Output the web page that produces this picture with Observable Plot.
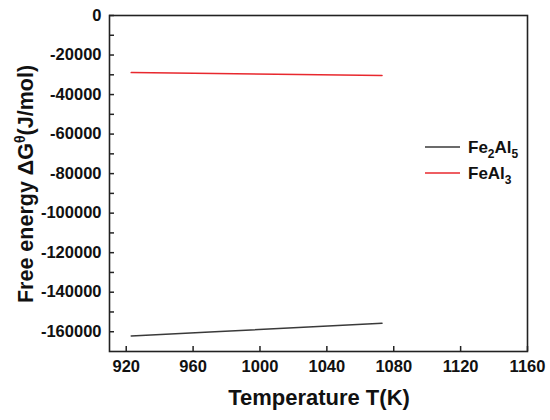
<!DOCTYPE html>
<html>
<head>
<meta charset="utf-8">
<script src="https://cdn.jsdelivr.net/npm/d3@7"></script>
<script src="https://cdn.jsdelivr.net/npm/@observablehq/plot@0.6"></script>
<style>
  html, body { margin: 0; padding: 0; background: #fff; }
</style>
</head>
<body>
<div id="chart"></div>
<script>
// ---- data ----
const temperature = [923, 973, 1023, 1073];
const fe2al5 = [-162100, -160000, -157900, -155700];
const feal3 = [-28900, -29400, -29900, -30400];
const seriesNames = ["Fe2Al5", "FeAl3"];
const xTicks = [920, 960, 1000, 1040, 1080, 1120, 1160];
const yTicks = [0, -20000, -40000, -60000, -80000, -100000, -120000, -140000, -160000];
const yMinorTicks = [-10000, -30000, -50000, -70000, -90000, -110000, -130000, -150000];

const rows = [];
temperature.forEach((t, i) => {
  rows.push({series: seriesNames[0], T: t, G: fe2al5[i]});
  rows.push({series: seriesNames[1], T: t, G: feal3[i]});
});

const W = 550, H = 420;
const mL = 109, mR = 23, mT = 15, mB = 69;
const plotW = W - mL - mR, plotH = H - mT - mB;
const tickLen = 5;
const colors = {Fe2Al5: "#3a3a3a", FeAl3: "#e8282e"};

const svg = Plot.plot({
  width: W,
  height: H,
  marginLeft: mL,
  marginRight: mR,
  marginTop: mT,
  marginBottom: mB,
  style: {fontFamily: "'Liberation Sans', Arial, sans-serif", fontWeight: "bold", fontSize: "16.5px", color: "#111", background: "#fff"},
  x: {domain: [910, 1160]},
  y: {domain: [-170000, 0]},
  color: {domain: seriesNames, range: [colors.Fe2Al5, colors.FeAl3]},
  marks: [
    Plot.axisX(xTicks, {tickSize: 0, tickPadding: 9, label: null, tickFormat: d => String(d)}),
    Plot.axisY(yTicks, {tickSize: 0, tickPadding: 8, label: null, tickFormat: d => String(d)}),
    Plot.tickX(xTicks, {x: d => d, stroke: "#222", strokeWidth: 1.5, insetTop: plotH - tickLen}),
    Plot.tickY(yTicks.concat(yMinorTicks), {y: d => d, stroke: "#222", strokeWidth: 1.5, insetRight: plotW - tickLen}),
    Plot.line(rows, {x: "T", y: "G", z: "series", stroke: "series", strokeWidth: 1.5}),
    Plot.frame({stroke: "#222", strokeWidth: 1.6})
  ]
});

const s = d3.select(svg);
// Axis titles
s.append("text")
  .attr("x", (mL + W - mR) / 2 + 1)
  .attr("y", 405)
  .attr("text-anchor", "middle")
  .style("font-size", "22px")
  .style("font-weight", "bold")
  .attr("fill", "#111")
  .text("Temperature T(K)");

const yt = s.append("text")
  .attr("transform", "translate(33,184) rotate(-90)")
  .attr("text-anchor", "middle")
  .style("font-size", "21.5px")
  .style("font-weight", "bold")
  .attr("fill", "#111");
yt.append("tspan").text("Free energy ΔG");
yt.append("tspan").attr("dy", -8).style("font-size", "14px").text("θ");
yt.append("tspan").attr("dy", 8).text("(J/mol)");

// Legend
const legend = [
  {name: seriesNames[0], base: "Fe", sub1: "2", mid: "Al", sub2: "5", y: 147},
  {name: seriesNames[1], base: "FeAl", sub1: "3", mid: "", sub2: "", y: 173}
];
legend.forEach(l => {
  s.append("line").attr("x1", 425).attr("x2", 460).attr("y1", l.y).attr("y2", l.y)
    .attr("stroke", colors[l.name]).attr("stroke-width", 1.4);
  const t = s.append("text").attr("x", 468).attr("y", l.y + 6)
    .attr("text-anchor", "start")
    .style("font-size", "17px").style("font-weight", "bold").attr("fill", "#111");
  t.append("tspan").text(l.base);
  t.append("tspan").attr("dy", 5).style("font-size", "12px").text(l.sub1);
  if (l.mid) {
    t.append("tspan").attr("dy", -5).text(l.mid);
    t.append("tspan").attr("dy", 5).style("font-size", "12px").text(l.sub2);
  }
});

document.getElementById("chart").appendChild(svg);
</script>
</body>
</html>
